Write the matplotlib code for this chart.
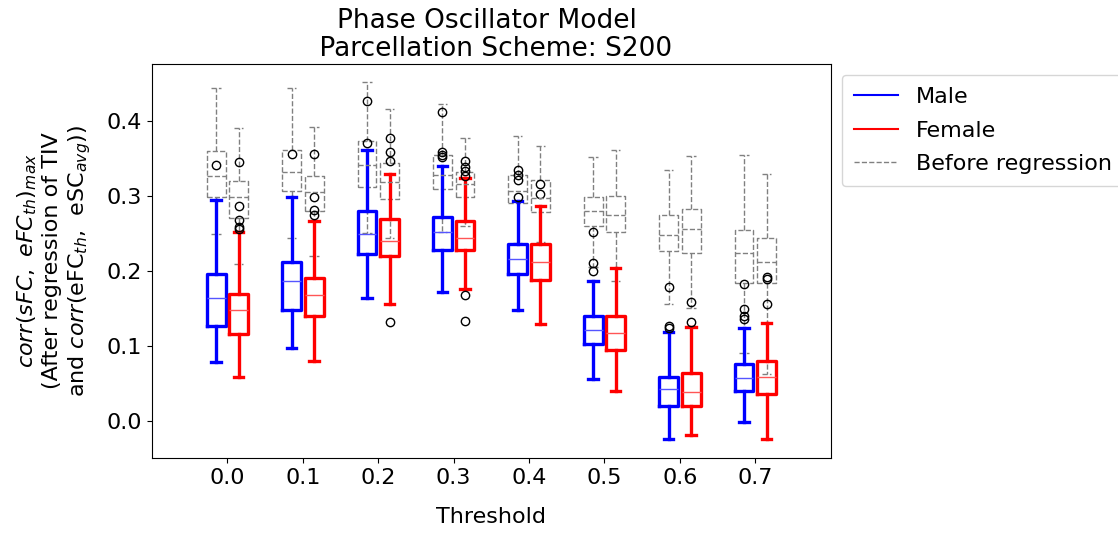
import matplotlib
matplotlib.use("Agg")
import matplotlib.pyplot as plt
from matplotlib.lines import Line2D

thresholds = ["0.0", "0.1", "0.2", "0.3", "0.4", "0.5", "0.6", "0.7"]

# After regression - Male
male_whislo = [0.078, 0.097, 0.163, 0.171, 0.147, 0.056, -0.024, -0.002]
male_q1 = [0.126, 0.148, 0.222, 0.227, 0.195, 0.102, 0.019, 0.040]
male_med = [0.164, 0.186, 0.249, 0.252, 0.216, 0.121, 0.042, 0.057]
male_q3 = [0.195, 0.212, 0.280, 0.272, 0.235, 0.139, 0.058, 0.075]
male_whishi = [0.295, 0.299, 0.361, 0.340, 0.293, 0.186, 0.118, 0.124]
male_fliers = [[0.341], [0.356], [0.427, 0.370], [0.412, 0.359, 0.355, 0.352],
               [0.334, 0.328, 0.321, 0.298], [0.252, 0.210, 0.200],
               [0.178, 0.126, 0.123], [0.182, 0.149, 0.139, 0.136]]

# After regression - Female
female_whislo = [0.058, 0.080, 0.156, 0.176, 0.129, 0.039, -0.019, -0.025]
female_q1 = [0.116, 0.140, 0.219, 0.227, 0.188, 0.094, 0.019, 0.036]
female_med = [0.147, 0.168, 0.239, 0.244, 0.212, 0.117, 0.038, 0.058]
female_q3 = [0.169, 0.190, 0.269, 0.266, 0.235, 0.140, 0.063, 0.079]
female_whishi = [0.252, 0.267, 0.329, 0.324, 0.287, 0.203, 0.125, 0.130]
female_fliers = [[0.345, 0.286, 0.268, 0.259, 0.256], [0.356, 0.299, 0.281, 0.275],
                 [0.377, 0.358, 0.347, 0.132], [0.347, 0.339, 0.333, 0.326, 0.167, 0.133],
                 [0.316, 0.302], [], [0.158, 0.132], [0.192, 0.189, 0.155]]

# Before regression - Male
mb_whislo = [0.249, 0.244, 0.250, 0.252, 0.237, 0.205, 0.156, 0.090]
mb_q1 = [0.298, 0.306, 0.312, 0.309, 0.290, 0.260, 0.226, 0.184]
mb_med = [0.326, 0.332, 0.341, 0.328, 0.307, 0.280, 0.248, 0.224]
mb_q3 = [0.360, 0.361, 0.373, 0.355, 0.328, 0.298, 0.275, 0.254]
mb_whishi = [0.444, 0.444, 0.452, 0.422, 0.380, 0.352, 0.334, 0.354]

# Before regression - Female
fb_whislo = [0.209, 0.219, 0.243, 0.260, 0.238, 0.186, 0.150, 0.062]
fb_q1 = [0.271, 0.280, 0.296, 0.298, 0.278, 0.251, 0.224, 0.184]
fb_med = [0.299, 0.305, 0.318, 0.316, 0.297, 0.274, 0.255, 0.212]
fb_q3 = [0.320, 0.327, 0.344, 0.332, 0.321, 0.300, 0.282, 0.244]
fb_whishi = [0.391, 0.392, 0.416, 0.377, 0.366, 0.361, 0.353, 0.329]


def make_stats(lo, q1, med, q3, hi, fliers=None):
    out = []
    for i in range(len(lo)):
        out.append(dict(whislo=lo[i], q1=q1[i], med=med[i], q3=q3[i], whishi=hi[i],
                        fliers=(fliers[i] if fliers is not None else [])))
    return out


plt.rcParams['font.size'] = 16
fig = plt.figure(figsize=(11.18, 5.34), dpi=100)
ax = fig.add_axes([0.136, 0.1423, 0.607, 0.738])

base = list(range(1, len(thresholds) + 1))
off = 0.15
w = 0.25
pos_m = [b - off for b in base]
pos_f = [b + off for b in base]

flierprops = dict(marker='o', markerfacecolor='none', markeredgecolor='black',
                  markersize=6, markeredgewidth=1.0, linestyle='none')

def style(color, lw, ls='-', medlw=1.0, medcolor=None):
    return dict(boxprops=dict(color=color, linewidth=lw, linestyle=ls),
                whiskerprops=dict(color=color, linewidth=lw, linestyle=ls),
                capprops=dict(color=color, linewidth=lw, linestyle=ls),
                medianprops=dict(color=medcolor or color, linewidth=medlw, linestyle=ls))

gray = '#808080'
ax.bxp(make_stats(mb_whislo, mb_q1, mb_med, mb_q3, mb_whishi), positions=pos_m,
       widths=w, showfliers=False, manage_ticks=False, **style(gray, 1.0, '--', 1.0))
ax.bxp(make_stats(fb_whislo, fb_q1, fb_med, fb_q3, fb_whishi), positions=pos_f,
       widths=w, showfliers=False, manage_ticks=False, **style(gray, 1.0, '--', 1.0))
ax.bxp(make_stats(male_whislo, male_q1, male_med, male_q3, male_whishi, male_fliers),
       positions=pos_m, widths=w, showfliers=True, flierprops=flierprops,
       manage_ticks=False, **style('blue', 2.4, '-', 1.0, '#5555ff'))
ax.bxp(make_stats(female_whislo, female_q1, female_med, female_q3, female_whishi, female_fliers),
       positions=pos_f, widths=w, showfliers=True, flierprops=flierprops,
       manage_ticks=False, **style('red', 2.4, '-', 1.0, '#ff5555'))

ax.set_xlim(0, len(thresholds) + 1)
ax.set_ylim(-0.05, 0.476)
ax.set_xticks(base)
ax.set_xticklabels(thresholds)
ax.set_yticks([0.0, 0.1, 0.2, 0.3, 0.4])

ax.set_xlabel("Threshold", labelpad=14)
ax.set_ylabel(r"$corr(sFC,\ eFC_{th})_{max}$" + "\n(After regression of TIV\n" +
              r"and $corr$(eFC$_{th}$,  eSC$_{avg}$))", labelpad=10)
ax.set_title("Phase Oscillator Model \n Parcellation Scheme: S200", fontsize=19,
             linespacing=1.1)

handles = [Line2D([0], [0], color='blue', lw=1.5),
           Line2D([0], [0], color='red', lw=1.5),
           Line2D([0], [0], color=gray, lw=1.0, linestyle='--')]
ax.legend(handles, ["Male", "Female", "Before regression"], loc='upper left',
          bbox_to_anchor=(1.0, 1.0), fontsize=16, labelspacing=0.6, borderpad=0.55)

fig.savefig("out.png", dpi=100)
